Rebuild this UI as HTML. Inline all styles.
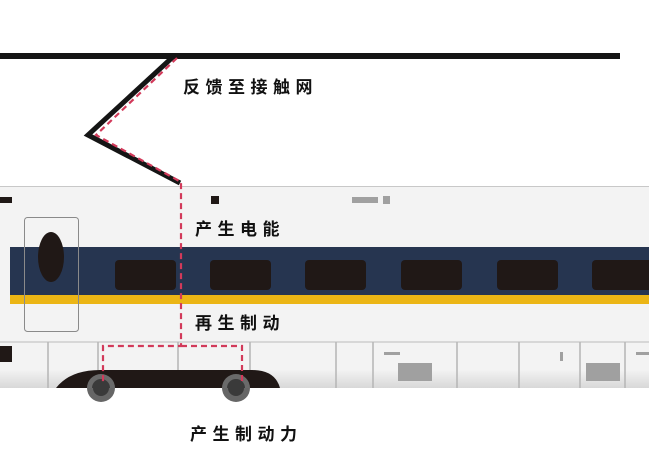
<!DOCTYPE html>
<html><head><meta charset="utf-8"><style>
body{margin:0;width:649px;height:464px;overflow:hidden;background:#fff}
.t{position:absolute;font-family:"Liberation Sans","Noto Sans CJK SC",sans-serif;font-weight:bold;font-size:17px;color:#111;letter-spacing:5.5px;line-height:20px;white-space:nowrap}
</style></head><body>
<svg width="649" height="464" style="position:absolute;left:0;top:0">
<defs><linearGradient id="g" x1="0" y1="0" x2="0" y2="1"><stop offset="0.6" stop-color="#f3f3f3"/><stop offset="1" stop-color="#d8d8d8"/></linearGradient></defs>
<rect x="0" y="53" width="620" height="6" fill="#151515"/>
<rect x="0" y="186" width="649" height="202" fill="#f3f3f3"/>
<line x1="0" y1="186.5" x2="649" y2="186.5" stroke="#c8c8c8"/>
<rect x="0" y="342" width="649" height="46" fill="url(#g)"/>
<line x1="0" y1="342" x2="649" y2="342" stroke="#bbb"/>
<rect x="10" y="247" width="639" height="48" fill="#263550"/>
<rect x="10" y="295" width="639" height="9" fill="#ebb515"/>
<g fill="#201816">
<rect x="115" y="260" width="61" height="30" rx="4"/><rect x="210" y="260" width="61" height="30" rx="4"/><rect x="305" y="260" width="61" height="30" rx="4"/><rect x="401" y="260" width="61" height="30" rx="4"/><rect x="497" y="260" width="61" height="30" rx="4"/><rect x="592" y="260" width="61" height="30" rx="4"/>
<ellipse cx="51" cy="257" rx="13" ry="25"/>
<rect x="0" y="197" width="12" height="6"/><rect x="211" y="196" width="8" height="8"/><rect x="0" y="346" width="12" height="16"/>
</g>
<rect x="24.5" y="217.5" width="54" height="114" rx="3" fill="none" stroke="#8a8a8a"/>
<g fill="#a0a0a0"><rect x="352" y="197" width="26" height="6"/><rect x="383" y="196" width="7" height="8"/>
<rect x="398" y="363" width="34" height="18"/><rect x="384" y="352" width="16" height="3"/><rect x="560" y="352" width="3" height="9"/><rect x="586" y="363" width="34" height="18"/><rect x="636" y="352" width="13" height="3"/></g>
<g stroke="#b5b5b5" stroke-width="1.5"><line x1="48" y1="342" x2="48" y2="388"/><line x1="98" y1="342" x2="98" y2="388"/><line x1="178" y1="342" x2="178" y2="388"/><line x1="250" y1="342" x2="250" y2="388"/><line x1="336" y1="342" x2="336" y2="388"/><line x1="373" y1="342" x2="373" y2="388"/><line x1="457" y1="342" x2="457" y2="388"/><line x1="519" y1="342" x2="519" y2="388"/><line x1="580" y1="342" x2="580" y2="388"/><line x1="625" y1="342" x2="625" y2="388"/></g>
<path d="M56 388 Q70 370 100 370 L252 370 Q275 370 280 388 Z" fill="#201816"/>
<circle cx="101" cy="388" r="14" fill="#6a6a6a"/><circle cx="101" cy="388" r="9" fill="#3a3a3a"/>
<circle cx="236" cy="388" r="14" fill="#6a6a6a"/><circle cx="236" cy="388" r="9" fill="#3a3a3a"/>
<rect x="0" y="388" width="649" height="76" fill="#fff"/>
<path d="M87 388 A14 14 0 0 0 115 388Z M222 388 A14 14 0 0 0 250 388Z" fill="#666"/>
<path d="M93 388 A8 8 0 0 0 109 388Z M228 388 A8 8 0 0 0 244 388Z" fill="#3a3a3a"/>
<polyline points="175,55 88,135 180,183" fill="none" stroke="#151515" stroke-width="5"/>
<path d="M177 58 L96 135 L181 182 L181 346 L103 346 L103 385 M181 346 L242 346 L242 385" fill="none" stroke="#d23a5a" stroke-width="2.2" stroke-dasharray="6,4"/>
</svg>
<div class="t" style="left:183px;top:78px">反馈至接触网</div>
<div class="t" style="left:195px;top:220px">产生电能</div>
<div class="t" style="left:195px;top:314px">再生制动</div>
<div class="t" style="left:190px;top:425px">产生制动力</div>
</body></html>
